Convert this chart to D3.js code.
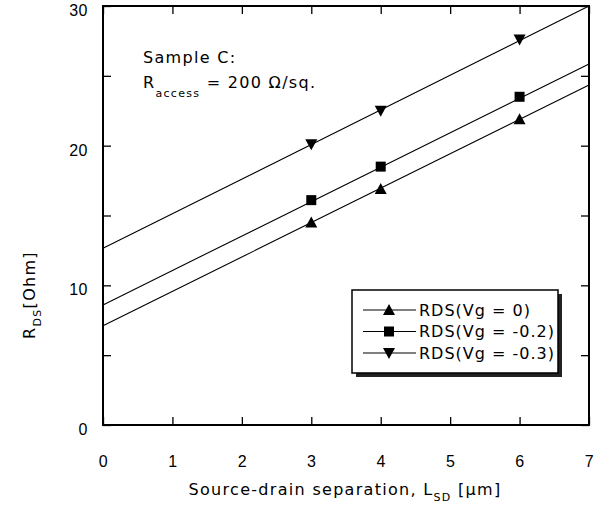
<!DOCTYPE html>
<html>
<head>
<meta charset="utf-8">
<script src="https://cdn.jsdelivr.net/npm/d3@7"></script>
<style>
  body { margin: 0; background: #fff; }
  svg text { font-family: "DejaVu Sans", sans-serif; fill: #000; letter-spacing: 1.3px; }
  svg .tick text { font-family: "Liberation Sans", Arial, sans-serif; letter-spacing: 0.5px; }
  svg .legend text { letter-spacing: 1px; }
</style>
</head>
<body>
<div id="chart"></div>
<script>
// measured points
const lsd = [3, 4, 6];
const rdsVg0 = [14.5, 16.9, 21.9];
const rdsVg02 = [16.1, 18.5, 23.5];
const rdsVg03 = [20.1, 22.5, 27.6];

// fitted lines, value at L = 0 and L = 7
const fitX = [0, 7];
const fitVg0 = [7.1, 24.35];
const fitVg02 = [8.6, 25.85];
const fitVg03 = [12.65, 30];

const seriesNames = ["RDS(Vg = 0)", "RDS(Vg = -0.2)", "RDS(Vg = -0.3)"];
const xTicks = [0, 1, 2, 3, 4, 5, 6, 7];
const yTicks = [0, 5, 10, 15, 20, 25, 30];

const series = [
  {name: seriesNames[0], y: rdsVg0, fit: fitVg0, sym: "up"},
  {name: seriesNames[1], y: rdsVg02, fit: fitVg02, sym: "square"},
  {name: seriesNames[2], y: rdsVg03, fit: fitVg03, sym: "down"}
];

const W = 615, H = 506;
const m = {left: 103, right: 26, top: 6, bottom: 81};

const svg = d3.select("#chart").append("svg")
  .attr("width", W).attr("height", H);

const x = d3.scaleLinear().domain([0, 7]).range([m.left, W - m.right]);
const y = d3.scaleLinear().domain([0, 30]).range([H - m.bottom, m.top]);

function marker(sel, sym) {
  if (sym === "square") {
    sel.append("rect").attr("x", -5).attr("y", -5).attr("width", 10).attr("height", 10);
  } else if (sym === "up") {
    sel.append("path").attr("d", "M0,-6L6,5L-6,5Z");
  } else {
    sel.append("path").attr("d", "M0,6L6,-5L-6,-5Z");
  }
}

// axes, ticks point inward
const fmtY = d => d % 10 === 0 ? d : "";
const gy = svg.append("g")
  .attr("transform", `translate(${m.left},0)`)
  .call(d3.axisLeft(y).tickValues(yTicks).tickFormat(fmtY).tickSizeInner(-8).tickSizeOuter(0).tickPadding(15));
gy.selectAll(".tick text").attr("dy", "0.6em");
svg.append("g")
  .attr("transform", `translate(${W - m.right},0)`)
  .call(d3.axisRight(y).tickValues(yTicks).tickFormat("").tickSizeInner(-8).tickSizeOuter(0));
svg.append("g")
  .attr("transform", `translate(0,${H - m.bottom})`)
  .call(d3.axisBottom(x).tickValues(xTicks).tickFormat(d3.format("d")).tickSizeInner(-8).tickSizeOuter(0).tickPadding(31));
svg.append("g")
  .attr("transform", `translate(0,${m.top})`)
  .call(d3.axisTop(x).tickValues(xTicks).tickFormat("").tickSizeInner(-8).tickSizeOuter(0));

svg.selectAll(".domain").remove();
svg.selectAll(".tick line").attr("stroke", "#000").attr("stroke-width", 1.3);
svg.selectAll(".tick text").style("font-size", "16px");

// frame
svg.append("rect")
  .attr("x", m.left).attr("y", m.top)
  .attr("width", W - m.left - m.right).attr("height", H - m.top - m.bottom)
  .attr("fill", "none").attr("stroke", "#000").attr("stroke-width", 2);

// fit lines
const line = d3.line().x(d => x(d[0])).y(d => y(d[1]));
series.forEach(s => {
  svg.append("path")
    .datum(fitX.map((v, i) => [v, s.fit[i]]))
    .attr("d", line)
    .attr("fill", "none").attr("stroke", "#000").attr("stroke-width", 1.1);
  svg.append("g").selectAll("g")
    .data(lsd.map((v, i) => [v, s.y[i]]))
    .join("g")
      .attr("transform", d => `translate(${x(d[0])},${y(d[1])})`)
      .each(function() { marker(d3.select(this), s.sym); });
});

// annotation
svg.append("text").attr("x", 143).attr("y", 63).style("font-size", "16px").text("Sample C:");
const ann = svg.append("text").attr("x", 143).attr("y", 88).style("font-size", "16px");
ann.append("tspan").text("R");
ann.append("tspan").attr("dy", 9).style("font-size", "11px").text("access");
ann.append("tspan").attr("dy", -9).text(" = 200 Ω/sq.");

// axis titles
const xt = svg.append("text").attr("x", 345).attr("y", 495)
  .attr("text-anchor", "middle").style("font-size", "16px");
xt.append("tspan").text("Source-drain separation, L");
xt.append("tspan").attr("dy", 6).style("font-size", "11px").text("SD");
xt.append("tspan").attr("dy", -6).text(" [μm]");

const yt = svg.append("text")
  .attr("transform", "translate(35,295) rotate(-90)")
  .attr("text-anchor", "middle").style("font-size", "16px");
yt.append("tspan").text("R");
yt.append("tspan").attr("dy", 6).style("font-size", "11px").text("DS");
yt.append("tspan").attr("dy", -6).text("[Ohm]");

// legend
const lg = svg.append("g").attr("class", "legend").attr("transform", "translate(352,290)");
lg.append("rect").attr("x", 4).attr("y", 4).attr("width", 206).attr("height", 83).attr("fill", "#222");
lg.append("rect").attr("width", 206).attr("height", 83)
  .attr("fill", "#fff").attr("stroke", "#000").attr("stroke-width", 1.5);
series.forEach((s, i) => {
  const row = lg.append("g").attr("transform", `translate(0,${20 + i * 21.5})`);
  row.append("line").attr("x1", 11).attr("x2", 64).attr("stroke", "#000").attr("stroke-width", 1.1);
  const mk = row.append("g").attr("transform", "translate(37,0)");
  marker(mk, s.sym);
  row.append("text").attr("x", 67).attr("dy", "0.35em").style("font-size", "16px").text(s.name);
});
</script>
</body>
</html>
